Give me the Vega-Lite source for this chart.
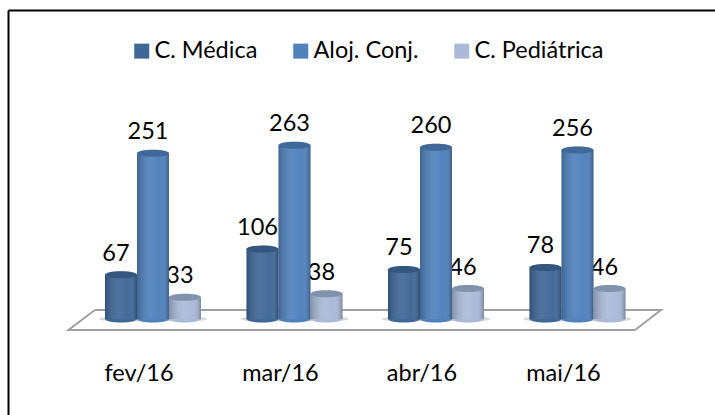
{
"$schema":"https://vega.github.io/schema/vega-lite/v6.json",
"width":707,"height":405,"padding":{"left":8,"top":10,"right":0,"bottom":0},"autosize":"none",
"background":"white",
"view":{"stroke":null,"fill":"white"},
"config":{"font":"Lato","axis":{"grid":false}},
"datasets":{
"vals":[
{"mes":"fev/16","serie":"C. Médica","valor":67},{"mes":"fev/16","serie":"Aloj. Conj.","valor":251},{"mes":"fev/16","serie":"C. Pediátrica","valor":33},
{"mes":"mar/16","serie":"C. Médica","valor":106},{"mes":"mar/16","serie":"Aloj. Conj.","valor":263},{"mes":"mar/16","serie":"C. Pediátrica","valor":38},
{"mes":"abr/16","serie":"C. Médica","valor":75},{"mes":"abr/16","serie":"Aloj. Conj.","valor":260},{"mes":"abr/16","serie":"C. Pediátrica","valor":46},
{"mes":"mai/16","serie":"C. Médica","valor":78},{"mes":"mai/16","serie":"Aloj. Conj.","valor":256},{"mes":"mai/16","serie":"C. Pediátrica","valor":46}],
"piso":[{"fx":95,"fy":13.6,"o":1},{"fx":661,"fy":13.6,"o":2},{"fx":635,"fy":-16.7,"o":3},{"fx":68.4,"fy":-16.7,"o":4},{"fx":95,"fy":13.6,"o":5}]
},
"layer":[
{"data":{"name":"piso"},
 "mark":{"type":"line","color":"#a0a0a0","strokeWidth":2},
 "encoding":{
  "x":{"field":"fx","type":"quantitative","scale":{"domain":[8,715],"nice":false,"zero":false},
   "axis":{"orient":"top","title":null,"labels":false,"ticks":false,"domain":true,"domainColor":"#000000","domainWidth":2,"grid":false}},
  "y":{"field":"fy","type":"quantitative","scale":{"domain":[-145.5,468],"nice":false,"zero":false},
   "axis":{"title":null,"labels":false,"ticks":false,"domain":true,"domainColor":"#000000","domainWidth":2,"grid":false}},
  "order":{"field":"o"}}},
{"data":{"name":"vals"},
 "encoding":{
  "x":{"field":"mes","type":"nominal","sort":["fev/16","mar/16","abr/16","mai/16"],
   "scale":{"paddingInner":0.3216,"paddingOuter":0.659,"align":0.52},
   "axis":{"orient":"bottom","title":null,"domain":false,"ticks":false,"labelAngle":0,"labelFont":"Lato","labelFontSize":23.5,"labelColor":"#000000","labelBaseline":"middle","labelPadding":0,"offset":-42,"labelOffset":-14}},
  "xOffset":{"field":"serie","type":"nominal","sort":["C. Médica","Aloj. Conj.","C. Pediátrica"],"scale":{"padding":0}},
  "y":{"field":"valor","type":"quantitative","scale":{"domain":[-145.5,468],"nice":false,"zero":false},
   "axis":{"title":null,"labels":false,"ticks":false,"domain":true,"domainColor":"#000000","domainWidth":2,"grid":false}}
 },
 "layer":[
 {"mark":{"type":"text","font":"Lato","fontSize":23.5,"color":"#000000","dy":-21,"dx":-5,"baseline":"middle"},
  "encoding":{"text":{"field":"valor","type":"quantitative"}}},
 {"mark":{"type":"point","filled":true,"opacity":0.3,"color":"#808080","shape":"M-1,0A1,0.12,0,1,1,1,0A1,0.12,0,1,1,-1,0Z"},
  "encoding":{"y":{"datum":0},"size":{"value":1936}}},
 {"mark":{"type":"point","filled":true,"opacity":1,"shape":"M-1,0A1,0.22,0,1,1,1,0A1,0.22,0,1,1,-1,0Z"},
  "encoding":{"y":{"datum":0},"size":{"value":1024},
   "color":{"field":"serie","type":"nominal","sort":["C. Médica","Aloj. Conj.","C. Pediátrica"],
    "scale":{"domain":["C. Médica","Aloj. Conj.","C. Pediátrica"],"range":["#3f6797","#4f81bd","#aabad7"]},
    "legend":{"title":null,"orient":"none","legendX":122,"legendY":29,"direction":"horizontal","columns":3,"symbolType":"square","symbolSize":225,"symbolStrokeWidth":0,"labelFont":"Lato","labelFontSize":23.5,"labelColor":"#000000","labelOffset":1,"columnPadding":31}}}},
 {"mark":{"type":"bar","width":32},
  "encoding":{"color":{"field":"serie","type":"nominal"}}},
 {"mark":{"type":"bar","width":32,"color":{"x1":0,"x2":1,"y1":0,"y2":0,"gradient":"linear","stops":[{"offset":0,"color":"rgba(0,0,0,0.22)"},{"offset":0.45,"color":"rgba(255,255,255,0.08)"},{"offset":0.75,"color":"rgba(255,255,255,0.02)"},{"offset":1,"color":"rgba(0,0,0,0.28)"}]}}},
 {"mark":{"type":"point","filled":true,"opacity":1,"shape":"M-1,0A1,0.22,0,1,1,1,0A1,0.22,0,1,1,-1,0Z"},
  "encoding":{"size":{"value":1024},"color":{"field":"serie","type":"nominal"}}},
 {"mark":{"type":"point","filled":true,"opacity":0.28,"color":"#1a2a40","shape":"M-1,0A1,0.22,0,1,1,1,0A1,0.22,0,1,1,-1,0Z"},
  "encoding":{"size":{"value":1024}}}
 ]}
],
"resolve":{"scale":{"x":"independent"}}
}
